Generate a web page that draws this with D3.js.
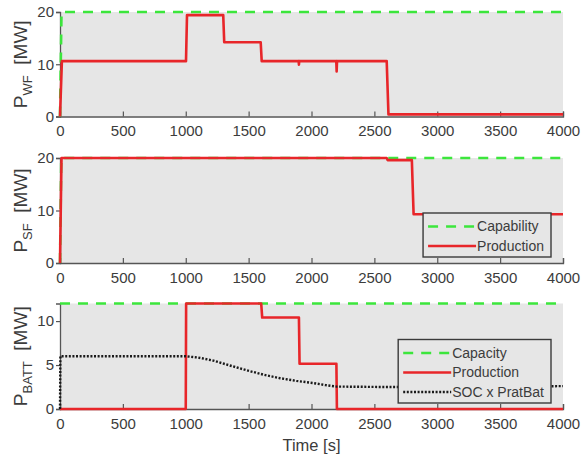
<!DOCTYPE html>
<html>
<head>
<meta charset="utf-8">
<script src="https://cdn.jsdelivr.net/npm/d3@7"></script>
<style>
  html, body { margin: 0; padding: 0; background: #ffffff; }
  svg { display: block; font-family: "Liberation Sans", Arial, sans-serif; }
</style>
</head>
<body>
<svg id="chart" width="582" height="459"></svg>
<script>
// Time axis shared by all three panels
const timeDomain = [0, 4000];
const timeTicks = [0, 500, 1000, 1500, 2000, 2500, 3000, 3500, 4000];

// Wind farm: [time s, power MW]
const wfCapability = [[0, 0], [12, 20], [4000, 20]];
const wfProduction = [
  [0, 0], [15, 10.6], [1002, 10.6], [1010, 19.4], [1298, 19.4], [1306, 14.2],
  [1596, 14.2], [1604, 10.6], [1898, 10.6], [1900, 9.9], [1902, 10.6],
  [2197, 10.6], [2200, 8.6], [2203, 10.6], [2598, 10.6], [2612, 0.4], [4000, 0.4]
];
const wfTicks = [0, 10, 20];

// Solar farm
const sfCapability = [[0, 0], [10, 20], [4000, 20]];
const sfProduction = [
  [0, 0], [12, 20], [2598, 20], [2606, 19.6], [2798, 19.6], [2812, 9.3], [4000, 9.3]
];
const sfTicks = [0, 10, 20];

// Battery
const battCapacity = [[0, 12], [4000, 12]];
const battProduction = [
  [0, 0], [1000, 0], [1003, 12], [1600, 12], [1608, 10.4], [1900, 10.4],
  [1905, 5.15], [2198, 5.15], [2202, 0], [4000, 0]
];
const battSoc = [
  [0, 0], [3, 6], [1000, 6], [1100, 5.85], [1220, 5.5], [1350, 4.95], [1485, 4.4],
  [1620, 3.9], [1750, 3.5], [1880, 3.2], [2015, 2.95], [2110, 2.72], [2200, 2.55],
  [2600, 2.5], [3300, 2.55], [4000, 2.6]
];
const battTicks = [0, 5, 10];

const textColor = "#3c3c3c";
const axisColor = "#555555";
const plotBg = "#e6e6e6";
const red = "#e8262a";
const green = "#3ce63c";

const styles = {
  capability: { stroke: green, width: 2.6, dash: "10,8" },
  production: { stroke: red, width: 2.6, dash: null },
  soc: { stroke: "#1a1a1a", width: 2.4, dash: "2,1.6" }
};

const svg = d3.select("#chart");
const left = 60, right = 563;
const x = d3.scaleLinear().domain(timeDomain).range([left, right]);

const panels = [
  { top: 12, bottom: 116.5, ymax: 20, ticks: wfTicks, sub: "WF",
    series: [[wfCapability, "capability"], [wfProduction, "production"]], legend: null },
  { top: 158, bottom: 263, ymax: 20, ticks: sfTicks, sub: "SF",
    series: [[sfCapability, "capability"], [sfProduction, "production"]],
    legend: [["Capability", "capability"], ["Production", "production"]] },
  { top: 303.5, bottom: 409, ymax: 12, ticks: battTicks, sub: "BATT",
    series: [[battCapacity, "capability"], [battProduction, "production"], [battSoc, "soc"]],
    legend: [["Capacity", "capability"], ["Production", "production"], ["SOC x PratBat", "soc"]] }
];

panels.forEach(p => {
  const y = d3.scaleLinear().domain([0, p.ymax]).range([p.bottom, p.top]);
  const g = svg.append("g");

  g.append("rect")
    .attr("x", left).attr("y", p.top)
    .attr("width", right - left).attr("height", p.bottom - p.top)
    .attr("fill", plotBg);

  // x axis: ticks point into the plot
  const xa = g.append("g").attr("transform", `translate(0,${p.bottom})`)
    .call(d3.axisBottom(x).tickValues(timeTicks).tickSize(-5).tickPadding(8).tickFormat(d3.format("d")));
  xa.select(".domain").attr("stroke", axisColor).attr("stroke-width", 1.3);
  xa.selectAll(".tick line").attr("stroke", axisColor).attr("stroke-width", 1.2);
  xa.selectAll(".tick text").attr("fill", textColor).attr("font-size", 15)
    .attr("font-family", "Liberation Sans, Arial, sans-serif").attr("dy", "0.71em").attr("y", 9);

  // y axis
  const ya = g.append("g").attr("transform", `translate(${left},0)`)
    .call(d3.axisLeft(y).tickValues(p.ticks).tickSize(4).tickPadding(2).tickFormat(d3.format("d")));
  ya.select(".domain").attr("stroke", axisColor).attr("stroke-width", 1.3);
  ya.selectAll(".tick line").attr("stroke", axisColor).attr("stroke-width", 1.2);
  ya.selectAll(".tick text").attr("fill", textColor).attr("font-size", 15)
    .attr("font-family", "Liberation Sans, Arial, sans-serif");

  // y label: P with subscript and unit
  const cy = (p.top + p.bottom) / 2;
  const lab = g.append("text")
    .attr("transform", `translate(27,${cy}) rotate(-90)`)
    .attr("text-anchor", "middle")
    .attr("fill", textColor)
    .attr("font-size", 19);
  lab.append("tspan").text("P");
  lab.append("tspan").attr("font-size", 13).attr("dy", 5).text(p.sub);
  lab.append("tspan").attr("dy", -5).text("\u00a0 [MW]");

  const line = d3.line().x(d => x(d[0])).y(d => y(d[1]));
  p.series.forEach(([data, kind]) => {
    const s = styles[kind];
    g.append("path")
      .attr("d", line(data))
      .attr("fill", "none")
      .attr("stroke", s.stroke)
      .attr("stroke-width", s.width)
      .attr("stroke-linejoin", "round")
      .attr("stroke-dasharray", s.dash);
  });

  if (p.legend) {
    const boxRight = right - 12, boxBottom = p.bottom - 6;
    const rowGap = 19.5, topPad = 13.5, botPad = 11;
    const boxH = topPad + (p.legend.length - 1) * rowGap + botPad;
    const boxTop = boxBottom - boxH;
    const lg = g.append("g");
    const box = lg.append("rect").attr("y", boxTop).attr("height", boxH)
      .attr("fill", plotBg).attr("stroke", "#3a3a3a").attr("stroke-width", 1.4);
    const texts = p.legend.map(([label], i) => lg.append("text")
      .attr("y", boxTop + topPad + i * rowGap).attr("dy", "0.35em")
      .attr("font-size", 14).attr("fill", textColor).text(label));
    const maxW = d3.max(texts, t => t.node().getComputedTextLength());
    const textX = boxRight - 7 - maxW;
    texts.forEach(t => t.attr("x", textX));
    p.legend.forEach(([, kind], i) => {
      const s = styles[kind];
      const ly = boxTop + topPad + i * rowGap;
      lg.append("line")
        .attr("x1", textX - 49).attr("x2", textX - 1)
        .attr("y1", ly).attr("y2", ly)
        .attr("stroke", s.stroke).attr("stroke-width", s.width)
        .attr("stroke-dasharray", s.dash);
    });
    box.attr("x", textX - 54).attr("width", boxRight - (textX - 54));
  }
});

svg.append("text")
  .attr("x", x(2000)).attr("y", 451)
  .attr("text-anchor", "middle")
  .attr("font-size", 16.5)
  .attr("fill", textColor)
  .text("Time [s]");
</script>
</body>
</html>
